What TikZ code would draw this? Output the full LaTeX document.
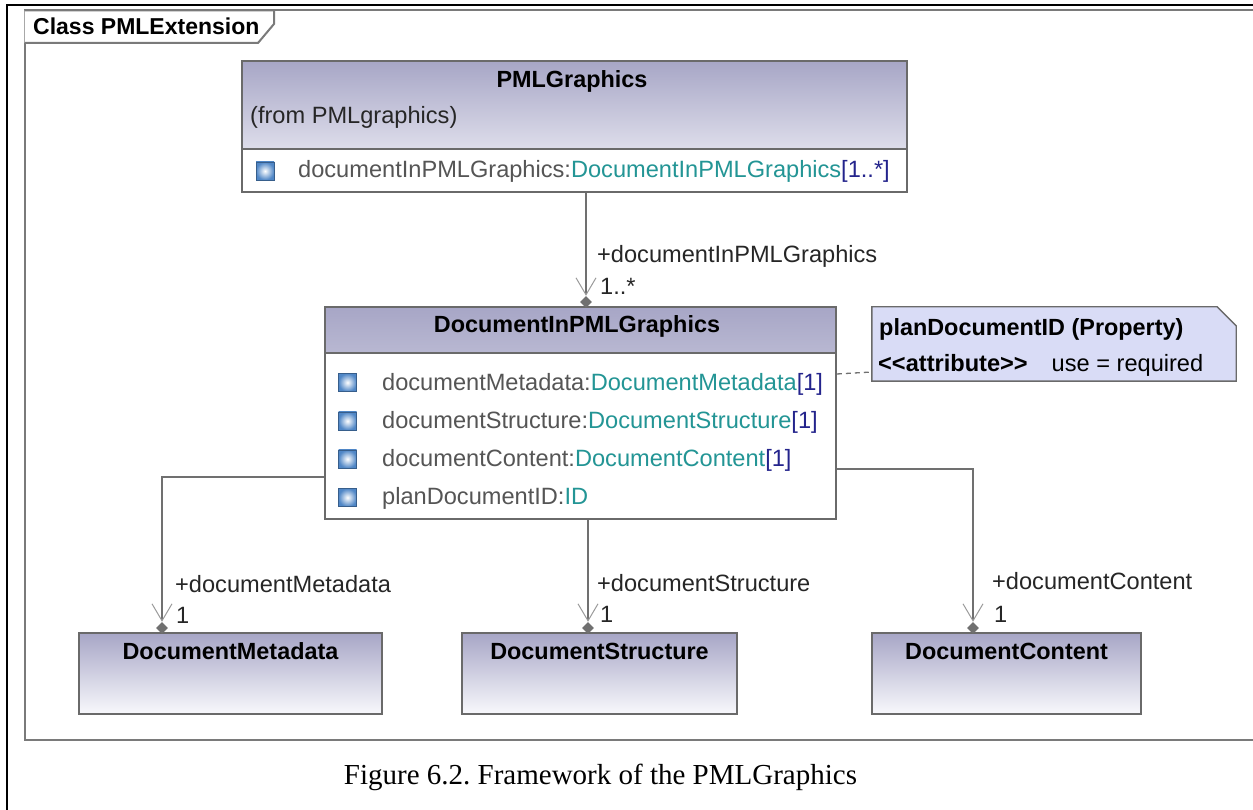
\documentclass[tikz,border=0pt]{standalone}
\usepackage{fontspec}
\setmainfont{Liberation Sans}
\newfontfamily\capfont{Liberation Serif}
\usetikzlibrary{arrows.meta,positioning,shapes.geometric}

\definecolor{framegray}{HTML}{7A7A7A}
\definecolor{boxgray}{HTML}{6A6A6A}
\definecolor{linegray}{HTML}{707070}
\definecolor{barbgray}{HTML}{9A9A9A}
\definecolor{hdtop}{HTML}{A7A6C6}
\definecolor{hdbot}{HTML}{F8F8FC}
\definecolor{notefill}{HTML}{D9DCF6}
\definecolor{namegray}{HTML}{555555}
\definecolor{typeteal}{HTML}{239595}
\definecolor{multnavy}{HTML}{24248C}
\definecolor{iconblue}{HTML}{4F86C6}

\begin{document}
\begin{tikzpicture}[x=1pt, y=1pt, font=\fontsize{23.6}{28}\selectfont,
    classbox/.style={draw=boxgray, line width=1.6pt, fill=white, inner sep=0pt},
    header/.style={path picture={\shade[top color=hdtop, bottom color=hdbot]
        (path picture bounding box.north west) rectangle ([yshift=-#1]path picture bounding box.north east);}},
    clsname/.style={font=\fontsize{23.4}{28}\selectfont\bfseries, inner sep=0pt, anchor=base},
    attr/.style={text=namegray, inner sep=0pt, anchor=base west},
    icon/.style={minimum size=18pt, inner sep=0pt, draw=iconblue!70!black, line width=0.4pt, inner color=white, outer color=iconblue},
    sepline/.style={draw=boxgray, line width=1.6pt},
    assoc/.style={draw=linegray, line width=1.4pt, -{Straight Barb[length=17pt, width=20pt, line width=1pt, color=barbgray]}},
    endmark/.style={diamond, fill=linegray, inner sep=0pt, minimum size=12pt},
    role/.style={text=black!85, inner sep=0pt, anchor=base west},
    framestyle/.style={draw=framegray, line width=2pt}]
    \useasboundingbox (0,0) rectangle (1253,810);

    % Frame
    \draw[line width=2pt] (6.5,0) -- (6.5,805) -- (1262,805);
    \draw[framestyle] (1262,799.5) -- (24.5,799.5) -- (24.5,70) -- (1262,70);
    \draw[framestyle, fill=white] (24.5,799.5) -- (274,799.5) -- (274,786) -- (258,767) -- (24.5,767);
    \node[font=\fontsize{23}{28}\selectfont\bfseries, anchor=base west, inner sep=0pt] (tabname) at (33,775) {Class PMLExtension};

    % Classes
    \node[classbox, header=89pt, minimum width=665pt, minimum height=131pt] (pmlg) at (574.5,683.5) {};
    \draw[sepline] ([yshift=-89pt]pmlg.north west) -- ([yshift=-89pt]pmlg.north east);
    \node[clsname] (pmlgname) at (572,722) {PMLGraphics};
    \node[anchor=base west, inner sep=0pt, text=black!85] (pmlgfrom) at (250,686) {(from PMLgraphics)};
    \node[icon] (ic0) at (265,639) {};
    \node[attr] (at0) at (298,632) {documentInPMLGraphics:{\color{typeteal}DocumentInPMLGraphics}{\color{multnavy}[1..*]}};

    \node[classbox, header=47pt, minimum width=511pt, minimum height=212pt] (docin) at (580.5,397) {};
    \draw[sepline] ([yshift=-47pt]docin.north west) -- ([yshift=-47pt]docin.north east);
    \node[clsname] (docinname) at (577,477) {DocumentInPMLGraphics};
    \node[icon] (ic1) at (347.5,427.5) {};
    \node[icon] (ic2) at (347.5,389) {};
    \node[icon] (ic3) at (347.5,351) {};
    \node[icon] (ic4) at (347.5,312.5) {};
    \node[attr] (at1) at (382,419) {documentMetadata:{\color{typeteal}DocumentMetadata}{\color{multnavy}[1]}};
    \node[attr] (at2) at (382,381) {documentStructure:{\color{typeteal}DocumentStructure}{\color{multnavy}[1]}};
    \node[attr] (at3) at (382,343) {documentContent:{\color{typeteal}DocumentContent}{\color{multnavy}[1]}};
    \node[attr] (at4) at (382,305) {planDocumentID:{\color{typeteal}ID}};

    \node[classbox, header=81pt, minimum width=303pt, minimum height=81pt] (meta) at (230.5,136.5) {};
    \node[classbox, header=81pt, minimum width=275pt, minimum height=81pt] (struct) at (599.5,136.5) {};
    \node[classbox, header=81pt, minimum width=269pt, minimum height=81pt] (cont) at (1006.5,136.5) {};
    \node[clsname] (metaname) at ([yshift=-27pt]meta.north) {DocumentMetadata};
    \node[clsname] (structname) at ([yshift=-27pt]struct.north) {DocumentStructure};
    \node[clsname] (contname) at ([yshift=-27pt]cont.north) {DocumentContent};

    % Note
    \node[minimum width=364pt, minimum height=74pt, inner sep=0pt] (note) at (1054,466) {};
    \filldraw[draw=boxgray, fill=notefill, line width=1.4pt] (note.south west) -- (note.north west) -- ([xshift=-19pt]note.north east)
        -- ([yshift=-19pt]note.north east) -- (note.south east) -- cycle;
    \node[font=\fontsize{23.4}{28}\selectfont\bfseries, anchor=base west, inner sep=0pt] (notehead) at (879,474) {planDocumentID (Property)};
    \node[anchor=base west, inner sep=0pt] (notebody) at (878,438) {\textbf{<{}<attribute>{}>}\hspace{24pt}use = required};
    \draw[draw=linegray, line width=1.3pt, dash pattern=on 5pt off 4pt] ([yshift=39pt]docin.east) -- ([yshift=-28pt]note.west);

    % Associations
    \node[endmark] (dtop) at (586,508) {};
    \node[endmark] (dmeta) at (162,182) {};
    \node[endmark] (dstruct) at (588,182) {};
    \node[endmark] (dcont) at (973,182) {};
    \draw[assoc] (pmlg.south -| dtop) -- (dtop);
    \draw[assoc] ([yshift=-64pt]docin.west) -| (dmeta);
    \draw[assoc] (docin.south -| dstruct) -- (dstruct);
    \draw[assoc] ([yshift=-56pt]docin.east) -| (dcont);

    \node[role] (rtop) at (597,547) {+documentInPMLGraphics};
    \node[role] (mtop) at (600,515) {1..*};
    \node[role] (rmeta) at (175,217) {+documentMetadata};
    \node[role] (mmeta) at (176,186) {1};
    \node[role] (rstruct) at (597,218) {+documentStructure};
    \node[role] (mstruct) at (600,187) {1};
    \node[role] (rcont) at (992,220) {+documentContent};
    \node[role] (mcont) at (994,187) {1};

    % Caption
    \node[font=\capfont\fontsize{29}{34}\selectfont, anchor=base, inner sep=0pt] (caption) at (600.5,25) {Figure 6.2.\ Framework of the PMLGraphics};
\end{tikzpicture}
\end{document}
